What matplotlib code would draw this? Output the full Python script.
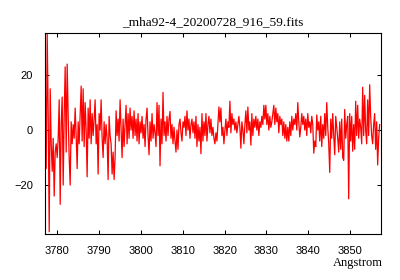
import matplotlib
matplotlib.use("Agg")
import matplotlib.pyplot as plt
import numpy as np

title = "_mha92-4_20200728_916_59.fits"
xlabel = "Angstrom"

# wavelength solution of the spectrum (start, step per pixel)
crval1 = 3777.25
cdelt1 = 0.238

flux = [
    19, -14, 35, 5, -37, 15, -5, -15, -3, -24,
    -8, -5, -10, -3, 11, -27, 2, 12, -20, 5,
    23, -8, 24, 5, -10, -20, 3, -5, 2, -3,
    8, -2, -14, 3, -5, 6, 16, -4, 15, -6,
    10, 0, -17, 8, -3, 11, -5, 6, -2, 4,
    11, -5, 2, -16, 6, 0, 11, -3, -10, 3,
    -5, 2, -3, -18, 5, -2, -5, -16, -8, -18,
    -10, 7, -2, 4, -4, 11, 1, -10, 4, -6,
    2, 9, -5, 6, -3, 8, 0, 5, -3, 7,
    -2, 4, -4, 6, -5, 3, -1, 5, -3, 2,
    -6, 4, 8, -2, -9, 3, -4, 6, -3, 2,
    -1, -6, 10, -2, 9, -13, 4, -5, 13.7, -2,
    3, -4, 5, -2, 4, 6.8, -3, 2, -5, 1,
    -4, -8, 0, -7, 2, 4, -1, -4, 3, 1,
    5, -2, 7, 0, 4, -3, 2, 4, -1, 3,
    -3, 5, -6, 2, -4, 1, -8.6, 6, -4, 3,
    -2, 6, -4, 2, 5, -1, 4, -2, 1, -3,
    -5, -1, -4, 2, 8.4, 3, 8, -2, 1, -5,
    0, 4, -2, 3, 1, 10.5, -1, 6, 2, 4,
    0, 3, -1, 2, 5, 1, -6.6, 3, 0, -5,
    2, 7, -1, 8.4, 0, 3, -5.5, 6, -2, 4,
    1, 5, 0, 4, -2, 3, 1, 5, 2, 9,
    4, 9, 2, 6, 0, 5, 1, 3, 6, 9,
    2, 8, 3, 6, -1, 5, 2, 4, -2, 3,
    -3, 2, -4, 1, -4, 3, -2, 5, 0, 4,
    2, 6, 0, 10, 3, -2.5, 1, 6, 2, 5,
    0, 4, -2, 6, 1, 3, -1, 5, 2, -8.4,
    -4, -6, 5.5, 0, 3, -4, 5, -6, 2, -3,
    6, -2, 10, 1, -5, -15.4, 4, -3, 6, -2,
    -9, 5, 1, -3, -8, 3, -7, 4, -10, -11,
    7.5, -3, 2, 5, -25, 6, -4, 5, -7.7, 2,
    -7, 10.5, -2, 9, -3, 4, 1, -5, 15.6, -2,
    12.6, 0, -5, 11, -2, 16.5, 5, -2, -5, 2,
    6, -7, 3, -12.7, -3, 2,
]

xticks = [3780, 3790, 3800, 3810, 3820, 3830, 3840, 3850]
yticks = [-20, 0, 20]

flux = np.array(flux, dtype=float)
wave = crval1 + cdelt1 * np.arange(len(flux))

fig = plt.figure(figsize=(4, 2.8), dpi=100)
ax = fig.add_axes([0.1125, 0.1643, 0.84, 0.7178])
ax.plot(wave, flux, color="#ff0000", lw=0.9)

ax.set_xlim(3777.2, 3857.3)
ax.set_ylim(-37.8, 35.3)
ax.set_xticks(xticks)
ax.set_yticks(yticks)
ax.tick_params(direction="in", top=True, right=True, length=3, width=0.75,
               pad=8.5, labelsize=8)
for lab in ax.get_xticklabels() + ax.get_yticklabels():
    lab.set_family("Liberation Sans")
for s in ax.spines.values():
    s.set_linewidth(0.8)

ax.set_title(title, family="Liberation Serif", fontsize=9.6, pad=5.5)
fig.text(0.957, 1 - 266 / 280, xlabel, family="Liberation Serif", fontsize=9,
         ha="right", va="baseline")

fig.savefig("out.png", dpi=100)
